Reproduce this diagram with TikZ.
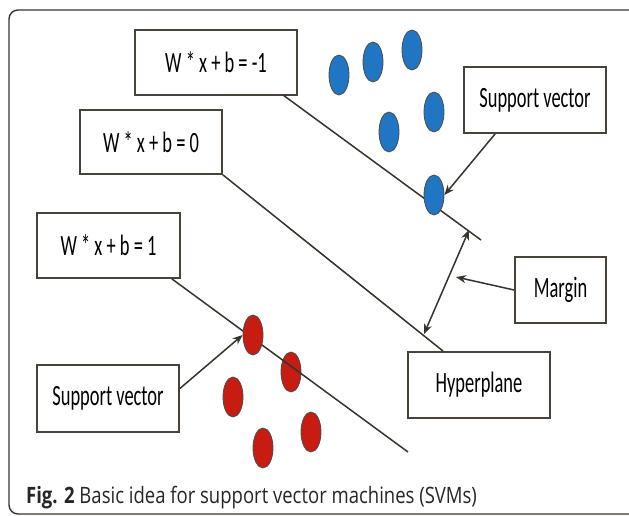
\documentclass[tikz,border=0pt]{standalone}
\usepackage{fontspec}
\usepackage{graphicx}
\newfontfamily\boxfont{Carlito}
\newfontfamily\capfont{Open Sans}
\usetikzlibrary{arrows.meta,calc,shapes.geometric,shadows}
\definecolor{edge}{RGB}{72,66,58}
\definecolor{inkline}{RGB}{55,51,45}
\definecolor{blueDot}{RGB}{33,118,196}
\definecolor{redDot}{RGB}{198,28,18}
\newcommand{\tall}[1]{\scalebox{0.97}[1.55]{#1}}
\begin{document}
\begin{tikzpicture}[x=1pt,y=-1pt,
  labelbox/.style={draw=edge,line width=1.8pt,fill=white,inner sep=0pt,
    drop shadow={shadow xshift=0.6pt,shadow yshift=-1.2pt,fill=edge,opacity=0.7},
    font=\boxfont\fontsize{19}{22}\selectfont},
  bluept/.style={ellipse,draw=black!70,line width=0.8pt,fill=blueDot,
    minimum width=20pt,minimum height=40pt,inner sep=0pt},
  redpt/.style={ellipse,draw=black!70,line width=0.8pt,fill=redDot,
    minimum width=20pt,minimum height=40pt,inner sep=0pt},
  plane/.style={draw=inkline,line width=1.5pt},
  pointer/.style={draw=inkline,line width=1.5pt,-{Stealth[length=10pt,width=8pt]}},
  bipointer/.style={draw=inkline,line width=1.5pt,{Stealth[length=10pt,width=8pt]}-{Stealth[length=10pt,width=8pt]}}
]
\useasboundingbox (0,0) rectangle (629,516);
\fill[white] (0,0) rectangle (629,516);
\begin{scope}
  \clip (0,0) rectangle (629,516);
  \draw[edge!80!black,line width=1.4pt,rounded corners=9pt] (9,10) rectangle (640,514);
\end{scope}

% the margin line ends
\coordinate (lmA) at (283,95);
\coordinate (lmB) at (481,240);
\coordinate (lpB) at (408,452);

% class points
\node[bluept] (b1) at (339,75) {};
\node[bluept] (b2) at (373,62) {};
\node[bluept] (b3) at (412,50) {};
\node[bluept] (b4) at (389,132) {};
\node[bluept] (b5) at (434,112) {};
\node[redpt] (r2) at (291,372) {};
\node[redpt] (r3) at (233,397) {};
\node[redpt] (r4) at (311,432) {};
\node[redpt] (r5) at (263,448) {};

% labels
\node[labelbox,minimum width=162pt,minimum height=65pt] (bm1) at (216,62.5) {\tall{W * x + b = -1}};
\node[labelbox,minimum width=142pt,minimum height=64pt] (bz) at (151,142) {\tall{W * x + b = 0}};
\node[labelbox,minimum width=143pt,minimum height=65pt] (bp1) at (108.5,245.5) {\tall{W * x + b = 1}};
\node[labelbox,minimum width=142pt,minimum height=66pt] (svt) at (535,100) {\tall{Support vector}};
\node[labelbox,minimum width=142pt,minimum height=67pt] (svb) at (108,398.5) {\tall{Support vector}};
\node[labelbox,minimum width=91pt,minimum height=66pt] (mg) at (560.5,290) {\tall{Margin}};
\node[labelbox,minimum width=142pt,minimum height=66pt] (hyp) at (479,385) {\tall{Hyperplane}};

% margin lines and hyperplane
\draw[plane] (lmA) -- (lmB);
\draw[plane] (bz.south east) -- ($(hyp.north west)+(36,0)$);
\draw[plane] ($(bp1.south east)+(-9,0)$) -- (lpB);

% support vectors sit on the margin lines
\node[bluept] (bsv) at (434,195) {};
\node[redpt] (r1) at (253,335) {};

% pointers
\coordinate (mA) at (469,230);
\coordinate (mB) at (424,334);
\coordinate (mT) at (456,277);
\draw[bipointer] (mA) -- (mB);
\draw[pointer] (mg.west) -- (mT);
\draw[pointer] ($(svt.south west)+(32,0)$) -- (bsv.east);
\draw[pointer] ($(svb.east)+(0,-10)$) -- (r1.west);

% caption
\node[anchor=base west,inner sep=0pt,font=\capfont\fontsize{18.5}{22}\selectfont,text=black!85]
  (cap) at (26,503) {\scalebox{1}[1.22]{\textbf{Fig. 2} Basic idea for support vector machines (SVMs)}};
\end{tikzpicture}
\end{document}
